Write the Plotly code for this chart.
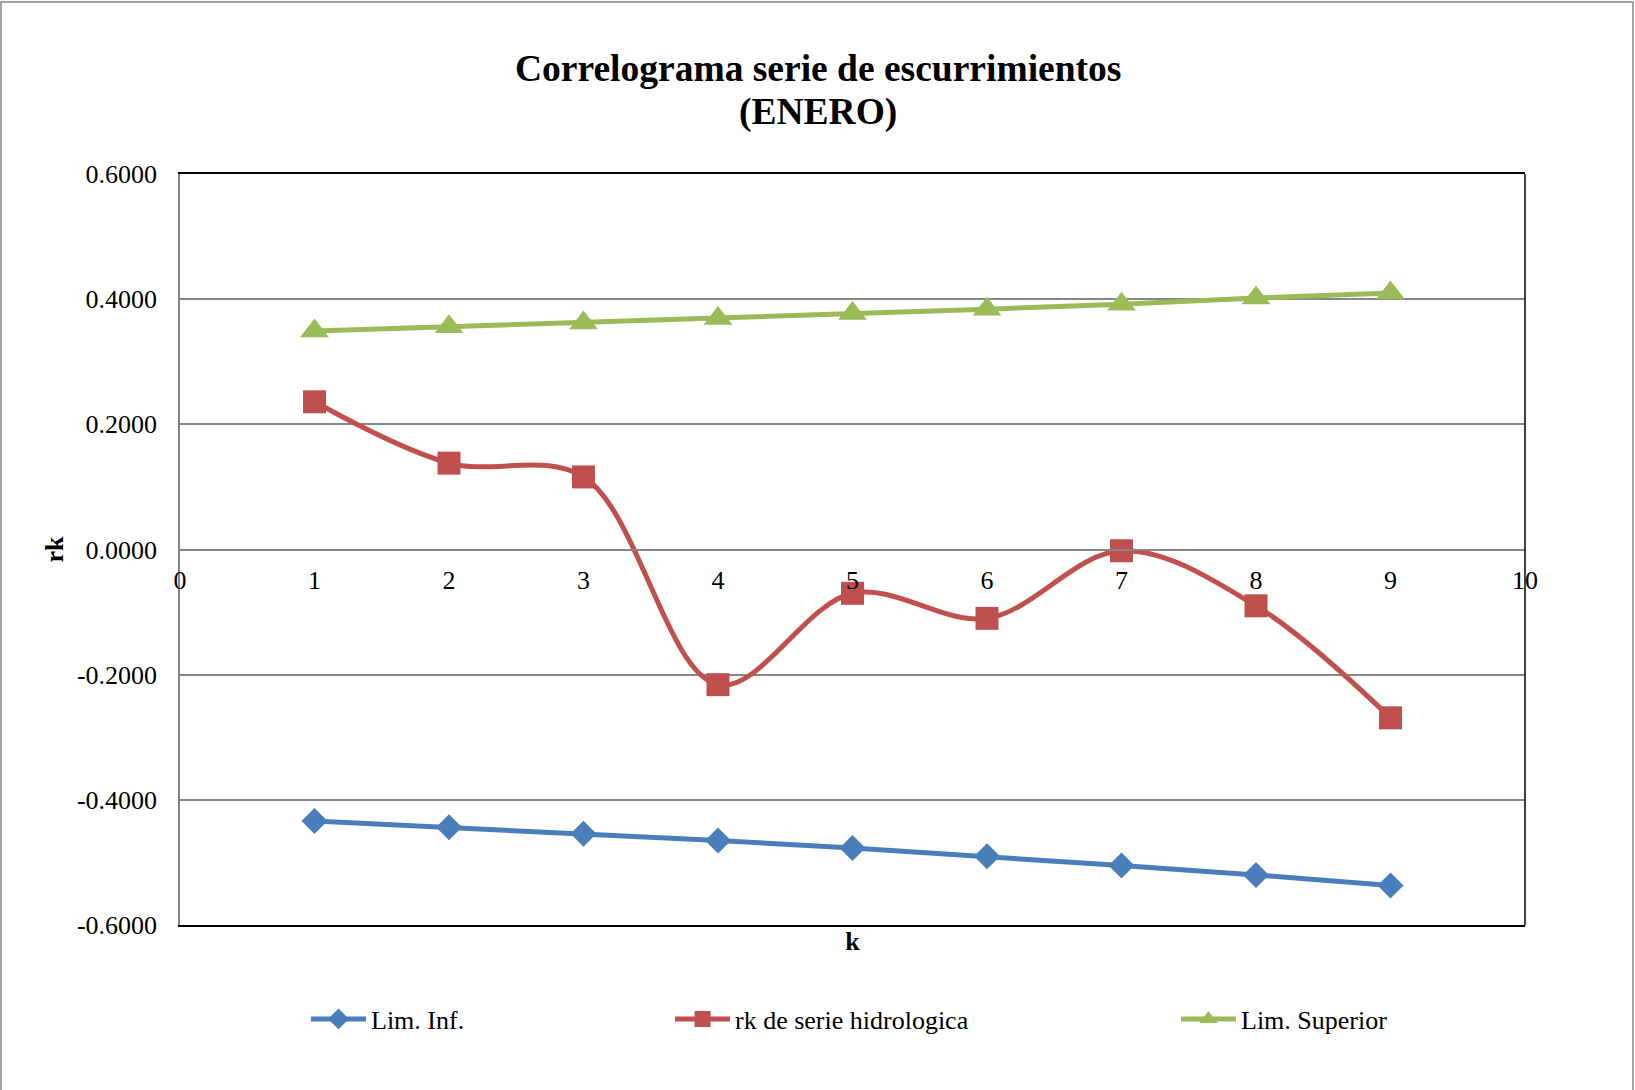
import plotly.graph_objects as go

k = [1, 2, 3, 4, 5, 6, 7, 8, 9]
lim_inf = [-0.434, -0.444, -0.454, -0.465, -0.477, -0.490, -0.505, -0.520, -0.537]
rk_serie = [0.236, 0.138, 0.116, -0.216, -0.070, -0.110, -0.002, -0.090, -0.269]
lim_sup = [0.349, 0.356, 0.362, 0.369, 0.377, 0.384, 0.392, 0.402, 0.410]
x_ticks = list(range(0, 11))
y_ticks = [-0.6, -0.4, -0.2, 0.0, 0.2, 0.4, 0.6]
y_tick_labels = ["-0.6000", "-0.4000", "-0.2000", "0.0000", "0.2000", "0.4000", "0.6000"]
title_lines = ["Correlograma serie de escurrimientos", "(ENERO)"]

FONT = "Liberation Serif, Times New Roman, serif"
W, H = 1635, 1090
L, R, T, B = 180, 110, 174, 165
PW, PH = W - L - R, H - T - B

def px(xp):
    return (xp - L) / PW

def py(yp):
    return (H - B - yp) / PH

fig = go.Figure()
fig.add_trace(go.Scatter(
    x=k, y=lim_inf, name="Lim. Inf.", mode="lines+markers",
    line=dict(color="#4A7EBB", width=5),
    marker=dict(symbol="diamond", size=20, color="#4A7EBB"),
    legend="legend"))
fig.add_trace(go.Scatter(
    x=k, y=rk_serie, name="rk de serie hidrologica", mode="lines+markers",
    line=dict(color="#C0504D", width=5, shape="spline", smoothing=1),
    marker=dict(symbol="square", size=23, color="#C0504D"),
    legend="legend2"))
fig.add_trace(go.Scatter(
    x=k, y=lim_sup, name="Lim. Superior", mode="lines+markers",
    line=dict(color="#9BBB59", width=5),
    marker=dict(symbol="triangle-up", size=25, color="#9BBB59"),
    legend="legend3"))

legend_common = dict(orientation="h", yanchor="middle", xanchor="left",
                     font=dict(family=FONT, size=26, color="black"),
                     itemwidth=55, bgcolor="rgba(0,0,0,0)")
fig.update_layout(
    width=W, height=H,
    margin=dict(l=L, r=R, t=T, b=B),
    paper_bgcolor="white", plot_bgcolor="white",
    font=dict(family=FONT, color="black"),
    showlegend=True,
    legend=dict(x=px(306), y=py(1019), **legend_common),
    legend2=dict(x=px(670), y=py(1019), **legend_common),
    legend3=dict(x=px(1176), y=py(1019), **legend_common),
    xaxis=dict(range=[0, 10], showticklabels=False, ticks="", showgrid=False,
               zeroline=False, showline=True, linecolor="black", linewidth=2,
               mirror=True,
               title=dict(text="<b>k</b>", font=dict(family=FONT, size=26), standoff=6)),
    xaxis2=dict(range=[0, 10], overlaying="x", anchor="free", position=0.5,
                tickvals=x_ticks, ticktext=[str(v) for v in x_ticks],
                showgrid=False, zeroline=False, showline=True,
                linecolor="#868686", linewidth=1.5, ticks="",
                ticklabelstandoff=8,
                tickfont=dict(family=FONT, size=26, color="black")),
    yaxis=dict(range=[-0.6, 0.6], tickvals=y_ticks, ticktext=y_tick_labels,
               showgrid=True, gridcolor="#868686", gridwidth=1.5,
               zeroline=False, showline=True, linecolor="#868686", linewidth=1.5,
               ticks="", ticklabelstandoff=16,
               tickfont=dict(family=FONT, size=26, color="black"),
               title=dict(text="<b>rk</b>", font=dict(family=FONT, size=26), standoff=6)),
)

for text, yc in zip(title_lines, [68, 112]):
    fig.add_annotation(text="<b>" + text + "</b>", xref="paper", yref="paper",
                       x=px(818), y=py(yc), xanchor="center", yanchor="middle",
                       showarrow=False, font=dict(family=FONT, size=37.5, color="black"))

# a dummy trace so xaxis2 is rendered
fig.add_trace(go.Scatter(x=[None], y=[None], xaxis="x2", showlegend=False, hoverinfo="skip"))

# right border of plot area
fig.add_shape(type="line", xref="paper", yref="paper", x0=1, x1=1, y0=0, y1=1,
              line=dict(color="black", width=1.5))
# outer chart border
fig.add_shape(type="rect", xref="paper", yref="paper",
              x0=px(1), x1=px(1633), y0=py(1092), y1=py(2),
              line=dict(color="#868686", width=1.5), layer="below")

fig.write_html("out.html", config={"displayModeBar": False},
               post_script="document.body.style.margin='0';document.body.style.padding='0';")
